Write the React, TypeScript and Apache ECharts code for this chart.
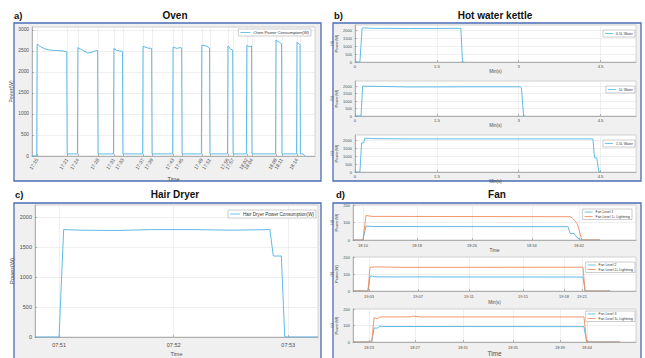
import React, { useEffect, useRef } from 'react';
import * as echarts from 'echarts';

const FONT = '"Liberation Sans", Arial, Helvetica, sans-serif';
const BLUE = '#4db3e4';
const ORANGE = '#f28a5c';

// a) Oven  (x in minutes-like units read from picture positions)
const ovenTicks = [1.2, 8.2, 10.7, 15.4, 19.1, 21.2, 25.9, 28.0, 32.9, 35.0, 39.6, 41.5, 45.7, 46.9, 50.1, 51.3, 56.9, 58.3, 61.8, 62.5];
const ovenTickLabels = ['17:15', '17:21', '17:24', '17:28', '17:31', '17:33', '17:37', '17:39', '17:43', '17:45', '17:49', '17:51', '17:56', '17:57', '18:02', '18:04', '18:09', '18:11', '18:14', '18:16'];
const ovenPower = [
  [0, 0], [1.1, 0], [1.2, 2660], [2, 2600], [3, 2550], [4.2, 2520], [6, 2510], [7.2, 2500], [8.1, 2480], [8.2, 50],
  [10.6, 50], [10.7, 2580], [11.6, 2530], [13, 2450], [14, 2470], [14.7, 2500], [15.3, 2510], [15.4, 50],
  [19.0, 50], [19.1, 2560], [19.8, 2510], [21.1, 2490], [21.2, 50],
  [25.8, 50], [25.9, 2610], [27, 2570], [27.9, 2560], [28.0, 50],
  [32.8, 50], [32.9, 2590], [33.8, 2560], [34.5, 2580], [34.9, 2570], [35.0, 50],
  [39.5, 50], [39.6, 2640], [40.8, 2610], [41.4, 2570], [41.5, 50],
  [45.6, 50], [45.7, 2620], [46.4, 2540], [46.8, 2520], [46.9, 50],
  [50.0, 50], [50.1, 2630], [50.8, 2600], [51.2, 2620], [51.3, 50],
  [56.8, 50], [56.9, 2760], [57.8, 2700], [58.2, 2670], [58.3, 50],
  [61.7, 50], [61.8, 2710], [62.3, 2665], [62.5, 2655], [62.6, 50], [63.2, 50], [63.7, 0],
];

// b) Hot water kettle (minutes)
const kettleTicks = [0, 1.5, 3, 4.5];
const kettleTickLabels = ['0', '1.5', '3', '4.5'];
const kettle05L = [[0, 0], [0.09, 0], [0.13, 2150], [0.16, 2170], [0.3, 2140], [1.0, 2130], [1.5, 2130], [1.94, 2140], [1.97, 0], [2.0, 0]];
const kettle1L = [[0, 0], [0.11, 0], [0.14, 2000], [0.4, 1990], [1.0, 1950], [2.0, 1960], [3.03, 1960], [3.05, 1900], [3.09, 0], [3.12, 0]];
const kettle15L = [[0, 0], [0.09, 0], [0.12, 1850], [0.16, 1850], [0.18, 2150], [0.3, 2120], [1, 2100], [4.36, 2100], [4.39, 900], [4.43, 900], [4.47, 0], [4.5, 0]];

// c) Hair dryer (minutes after 07:50)
const dryerTicks = [1, 2, 3];
const dryerTickLabels = ['07:51', '07:52', '07:53'];
const dryerPower = [[0.79, 0], [1.0, 0], [1.04, 1790], [1.2, 1780], [1.5, 1775], [1.8, 1790], [2.2, 1790], [2.5, 1780], [2.84, 1790], [2.87, 1350], [2.94, 1350], [2.97, 0], [3.26, 0]];

// d) Fan
const fan1Ticks = [10, 18, 26.15, 35, 42];
const fan1TickLabels = ['18:10', '18:18', '18:26', '18:34', '18:42'];
const fanLevel1 = [[8.52, 0], [10, 0], [10.44, 80], [11.33, 77], [40.37, 76], [40.67, 38], [41.26, 37], [41.56, 20], [42.2, 0], [45.1, 0]];
const fanLevel1L = [[8.52, 0], [10, 0], [10.44, 140], [11.33, 135], [40.67, 133], [40.96, 128], [41.4, 110], [41.7, 95], [42.0, 60], [42.4, 0], [45.1, 0]];

const fan2Ticks = [3, 6.83, 10.81, 15.03, 18.23, 19.64];
const fan2TickLabels = ['19:03', '19:07', '19:11', '19:15', '19:18', '19:21'];
const fanLevel2 = [[1.75, 0], [2.92, 0], [3.08, 85], [3.23, 88], [3.47, 83], [19.72, 82], [19.88, 0], [21.83, 0]];
const fanLevel2L = [[1.75, 0], [2.92, 0], [3.08, 140], [3.86, 142], [5.42, 139], [19.72, 140], [19.88, 0], [21.83, 0]];

const fan3Ticks = [23, 26.85, 30.87, 35.06, 39.0, 41.26];
const fan3TickLabels = ['18:23', '18:27', '18:31', '18:35', '18:39', '18:44'];
const fanLevel3 = [[21.66, 0], [23.23, 0], [23.42, 84], [23.73, 85], [23.92, 96], [24.26, 94], [41.0, 93], [41.23, 0], [44.02, 0]];
const fanLevel3L = [[21.66, 0], [23.23, 0], [23.42, 148], [23.67, 140], [23.92, 152], [26.43, 152], [26.68, 157], [27.02, 155], [27.27, 152], [41.0, 152], [41.23, 0], [44.02, 0]];

const lookup = (ticks: number[], labels: string[]) => (v: number) => {
  const i = ticks.findIndex((t) => Math.abs(t - v) < 1e-6);
  return i >= 0 ? labels[i] : '';
};

const AX = '#8c8c8c';
const LBL = '#4d4d4d';

function xAx(o: any) {
  return {
    type: 'value', gridIndex: o.g, min: o.min, max: o.max,
    axisLine: { show: true, onZero: false, lineStyle: { color: AX, width: 0.6 } },
    axisTick: { show: true, inside: true, length: 2, customValues: o.ticks, lineStyle: { color: AX, width: 0.6 } },
    axisLabel: { customValues: o.ticks, formatter: lookup(o.ticks, o.labels), fontSize: o.fs, color: LBL, fontFamily: FONT, margin: o.margin ?? 3, rotate: o.rotate ?? 0, hideOverlap: false },
    splitLine: { show: true, lineStyle: { color: '#e4e4e4', width: 0.6 } },
    name: o.name, nameLocation: 'middle', nameGap: o.nameGap,
    nameTextStyle: { fontSize: o.nfs, color: LBL, fontFamily: FONT },
  };
}

function yAx(o: any) {
  return {
    type: 'value', gridIndex: o.g, min: 0, max: o.max, interval: o.interval,
    axisLine: { show: true, lineStyle: { color: AX, width: 0.6 } },
    axisTick: { show: true, inside: true, length: 2, lineStyle: { color: AX, width: 0.6 } },
    axisLabel: { fontSize: o.fs, color: LBL, fontFamily: FONT, margin: 3, showMaxLabel: o.showMax ?? false, formatter: (v: number) => String(v) },
    splitLine: { show: true, lineStyle: { color: '#e4e4e4', width: 0.6 } },
    name: o.name, nameLocation: 'middle', nameGap: o.nameGap, nameRotate: 90,
    nameTextStyle: { fontSize: o.nfs, color: LBL, fontFamily: FONT, lineHeight: o.nfs + 1 },
  };
}

const gridStyle = { show: true, backgroundColor: '#ffffff', borderColor: '#bdbdbd', borderWidth: 0.6 };

function line(name: string, data: number[][], idx: number, color: string) {
  return {
    type: 'line', name, data, xAxisIndex: idx, yAxisIndex: idx, symbol: 'none',
    lineStyle: { color, width: 0.9 }, itemStyle: { color }, animation: false,
  };
}

function legend(items: [string, string][], right: number, top: number, fs: number, iw: number) {
  return {
    data: items.map(([n, c]) => ({ name: n, icon: 'rect', itemStyle: { color: c, borderWidth: 0 } })),
    right, top, orient: 'vertical', backgroundColor: '#ffffff',
    borderColor: '#9a9a9a', borderWidth: 0.5, padding: [1.5, 2], itemWidth: iw, itemHeight: 0.8,
    itemGap: 1.5, itemStyle: { borderWidth: 0 }, lineStyle: { width: 0 },
    textStyle: { fontSize: fs, color: '#333', fontFamily: FONT, padding: [0, 0, 0, -2] },
    selectedMode: false,
  };
}

function panel(x: number, y: number, w: number, h: number) {
  return { type: 'rect', z: -10, shape: { x, y, width: w, height: h }, style: { fill: '#f0f0f0', stroke: '#4a6db5', lineWidth: 1.3 }, silent: true };
}

function text(t: string, x: number, y: number, align: string, size = 10) {
  return { type: 'text', x, y, style: { text: t, fill: '#111', font: `bold ${size}px ${FONT}`, textAlign: align, textVerticalAlign: 'middle' }, silent: true };
}

export default function App() {
  const ref = useRef<HTMLDivElement>(null);
  useEffect(() => {
    if (!ref.current) return;
    const chart = echarts.init(ref.current, undefined, { renderer: 'svg' });
    const option: any = {
      animation: false,
      backgroundColor: '#ffffff',
      graphic: [
        panel(14, 23, 307, 158), panel(333, 23, 308, 158), panel(14, 203, 307, 162), panel(333, 203, 308, 162),
        text('a)', 14, 15, 'left', 9.5), text('Oven', 175, 15, 'center'),
        text('b)', 334, 15, 'left', 9.5), text('Hot water kettle', 495, 15, 'center'),
        text('c)', 15, 194, 'left', 9.5), text('Hair Dryer', 175, 194, 'center'),
        text('d)', 336, 194, 'left', 9.5), text('Fan', 497, 194, 'center'),
      ],
      grid: [
        { ...gridStyle, left: 32, top: 27, width: 283, height: 129 },
        { ...gridStyle, left: 355, top: 25, width: 281, height: 37 },
        { ...gridStyle, left: 355, top: 81, width: 281, height: 35 },
        { ...gridStyle, left: 355, top: 135, width: 281, height: 37 },
        { ...gridStyle, left: 35, top: 205, width: 283, height: 133 },
        { ...gridStyle, left: 353, top: 205, width: 283, height: 35 },
        { ...gridStyle, left: 353, top: 257, width: 283, height: 34 },
        { ...gridStyle, left: 353, top: 309, width: 283, height: 34 },
      ],
      xAxis: [
        xAx({ g: 0, min: 0, max: 66, ticks: ovenTicks, labels: ovenTickLabels, fs: 4.8, rotate: 58, name: 'Time', nameGap: 20, nfs: 5.5 }),
        xAx({ g: 1, min: 0, max: 5.15, ticks: kettleTicks, labels: kettleTickLabels, fs: 4.2, margin: 2, name: 'Min(s)', nameGap: 2, nfs: 4.5 }),
        xAx({ g: 2, min: 0, max: 5.15, ticks: kettleTicks, labels: kettleTickLabels, fs: 4.2, margin: 2, name: 'Min(s)', nameGap: 2, nfs: 4.5 }),
        xAx({ g: 3, min: 0, max: 5.15, ticks: kettleTicks, labels: kettleTickLabels, fs: 4.2, margin: 2, name: 'Min(s)', nameGap: 2, nfs: 4.5 }),
        xAx({ g: 4, min: 0.79, max: 3.26, ticks: dryerTicks, labels: dryerTickLabels, fs: 5.5, margin: 5, name: 'Time', nameGap: 14, nfs: 5.5 }),
        xAx({ g: 5, min: 8.52, max: 50.44, ticks: fan1Ticks, labels: fan1TickLabels, fs: 4, margin: 3, name: 'Time', nameGap: 8, nfs: 4.5 }),
        xAx({ g: 6, min: 1.75, max: 23.86, ticks: fan2Ticks, labels: fan2TickLabels, fs: 4, margin: 3, name: 'Min(s)', nameGap: 9, nfs: 4.5 }),
        xAx({ g: 7, min: 21.66, max: 45.36, ticks: fan3Ticks, labels: fan3TickLabels, fs: 4, margin: 3, name: 'Time', nameGap: 8, nfs: 6.5 }),
      ],
      yAxis: [
        yAx({ g: 0, max: 3070, interval: 500, fs: 4.8, name: 'Power(W)', nameGap: 13, nfs: 5 }),
        yAx({ g: 1, max: 2350, interval: 500, fs: 4, name: '(a)\nPower(W)', nameGap: 11, nfs: 4 }),
        yAx({ g: 2, max: 2350, interval: 500, fs: 4, name: '(b)\nPower(W)', nameGap: 11, nfs: 4 }),
        yAx({ g: 3, max: 2350, interval: 500, fs: 4, name: '(c)\nPower(W)', nameGap: 11, nfs: 4 }),
        yAx({ g: 4, max: 2200, interval: 500, fs: 5.5, name: 'Power(W)', nameGap: 16, nfs: 6 }),
        yAx({ g: 5, max: 200, interval: 100, fs: 4, name: '(a)\nPower(W)', nameGap: 8, nfs: 4, showMax: true }),
        yAx({ g: 6, max: 200, interval: 100, fs: 4, name: '(b)\nPower(W)', nameGap: 8, nfs: 4, showMax: true }),
        yAx({ g: 7, max: 200, interval: 100, fs: 4, name: '(c)\nPower(W)', nameGap: 8, nfs: 4, showMax: true }),
      ],
      legend: [
        legend([['Oven Power Consumption(W)', BLUE]], 334, 29, 4.2, 10),
        legend([['0.5L Water', BLUE]], 10, 30, 3.5, 8),
        legend([['1L Water', BLUE]], 10, 86, 3.5, 8),
        legend([['1.5L Water', BLUE]], 10, 140, 3.5, 8),
        legend([['Hair Dryer Power Consumption(W)', BLUE]], 329, 210, 4.6, 10),
        legend([['Fan Level 1', BLUE], ['Fan Level 1+ Lightning', ORANGE]], 13, 209, 3.4, 8),
        legend([['Fan Level 2', BLUE], ['Fan Level 2+ Lightning', ORANGE]], 10, 262, 3.4, 8),
        legend([['Fan Level 3', BLUE], ['Fan Level 3+ Lightning', ORANGE]], 10, 311, 3.4, 8),
      ],
      series: [
        line('Oven Power Consumption(W)', ovenPower, 0, BLUE),
        line('0.5L Water', kettle05L, 1, BLUE),
        line('1L Water', kettle1L, 2, BLUE),
        line('1.5L Water', kettle15L, 3, BLUE),
        line('Hair Dryer Power Consumption(W)', dryerPower, 4, BLUE),
        line('Fan Level 1', fanLevel1, 5, BLUE),
        line('Fan Level 1+ Lightning', fanLevel1L, 5, ORANGE),
        line('Fan Level 2', fanLevel2, 6, BLUE),
        line('Fan Level 2+ Lightning', fanLevel2L, 6, ORANGE),
        line('Fan Level 3', fanLevel3, 7, BLUE),
        line('Fan Level 3+ Lightning', fanLevel3L, 7, ORANGE),
      ],
    };
    chart.setOption(option);
    return () => chart.dispose();
  }, []);
  return <div ref={ref} style={{ position: 'absolute', left: 0, top: 0, width: 645, height: 358 }} />;
}
